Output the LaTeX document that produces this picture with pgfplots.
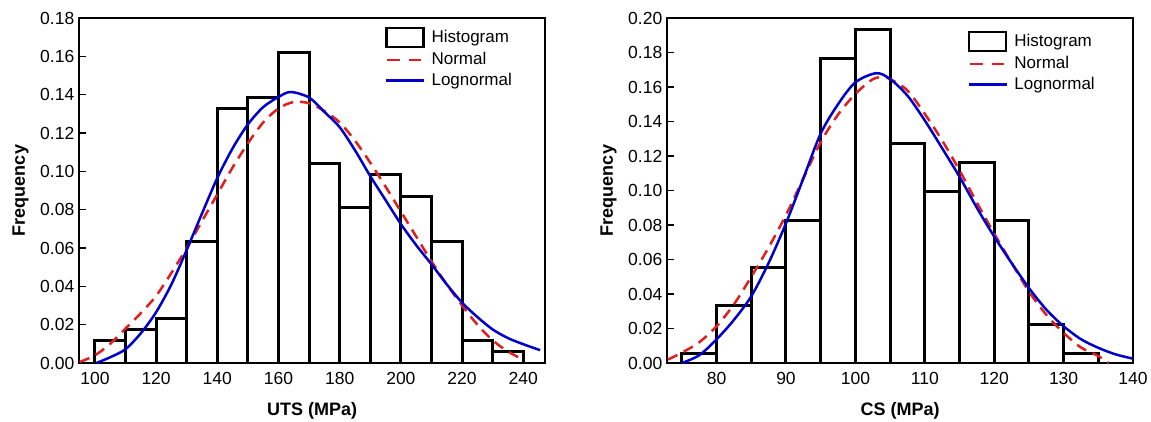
\documentclass[border=0pt]{standalone}
\usepackage{pgfplots}
\pgfplotsset{compat=1.18}
\usepackage{fontspec}
\setmainfont{Liberation Sans}
\definecolor{nred}{RGB}{225,30,30}
\definecolor{lblue}{RGB}{0,0,205}

\pgfplotsset{
  myaxis/.style={
    scale only axis, width=465.7pt, height=345pt,
    axis line style={line width=2pt},
    ytick pos=left, xtick pos=bottom,
    tick align=inside,
    major tick length=7pt,
    xtick style={draw=none},
    ytick style={line width=1.6pt, black},
    ymin=0,
    scaled y ticks=false,
    /pgf/number format/assume math mode=true,
    y tick label style={/pgf/number format/fixed, /pgf/number format/fixed zerofill, /pgf/number format/precision=2, font=\fontsize{17.5}{17.5}\selectfont, xshift=-1.5pt},
    x tick label style={font=\fontsize{17.5}{17.5}\selectfont, yshift=-6pt},
    x label style={at={(axis description cs:0.5,-0.138)}, anchor=center, font=\fontsize{18}{18}\selectfont\bfseries},
    y label style={at={(axis description cs:-0.126,0.5)}, anchor=center, font=\fontsize{18}{18}\selectfont\bfseries},
    ylabel={Frequency},
    legend cell align=left,
    legend style={draw=none, fill=none, inner sep=0pt, font=\fontsize{17}{17}\selectfont,
      row sep=3pt, nodes={inner sep=1pt, text height=12.5pt, text depth=3pt},
      /tikz/every odd column/.append style={column sep=4pt}},
  },
  histbar/.style={ybar interval, fill=white, draw=black, line width=3pt, forget plot},
  normcurve/.style={color=nred, line width=2.5pt, dash pattern=on 10.5pt off 7pt, smooth, no marks, forget plot},
  logcurve/.style={color=lblue, line width=2.5pt, smooth, no marks, forget plot},
}

\begin{document}
\begin{tikzpicture}
\useasboundingbox (-79.3pt,-58pt) rectangle (1071.7pt,363pt);

% ---------------- left: UTS ----------------
\begin{axis}[myaxis, at={(0pt,0pt)}, anchor=south west,
  xmin=94.9, xmax=247.1, ymax=0.18,
  xtick={100,120,...,240}, ytick={0,0.02,...,0.18},
  xlabel={UTS (MPa)},
  legend style={at={(0.656,0.975)}, anchor=north west}]
\addplot[histbar] coordinates {
 (100,0.01156) (110,0.01734) (120,0.02312) (130,0.06358) (140,0.13295)
 (150,0.13873) (160,0.16185) (170,0.10405) (180,0.08092) (190,0.09827)
 (200,0.08671) (210,0.06358) (220,0.01156) (230,0.00578) (240,0.00578)};
\addplot[normcurve] coordinates {
 (95,0.0005) (100,0.004) (105,0.010) (110,0.018) (115,0.026) (120,0.035)
 (125,0.047) (130,0.060) (135,0.074) (140,0.088) (145,0.102) (150,0.1146)
 (155,0.1255) (160,0.1328) (165,0.1362) (170,0.1355) (175,0.1315) (180,0.1255)
 (185,0.116) (190,0.1045) (195,0.092) (200,0.079) (205,0.066) (210,0.053)
 (215,0.041) (220,0.030) (225,0.020) (230,0.0118) (235,0.006) (240,0.0017)};
\addplot[logcurve] coordinates {
 (100.5,0) (105,0.003) (110,0.0072) (115,0.0155) (120,0.0265) (125,0.041)
 (130,0.059) (135,0.078) (140,0.0965) (145,0.112) (150,0.1245) (155,0.1335)
 (160,0.1388) (164,0.1414) (170,0.1385) (175,0.131) (180,0.123) (185,0.111)
 (190,0.0975) (195,0.085) (200,0.0725) (205,0.0615) (210,0.0515) (215,0.041)
 (220,0.0315) (225,0.024) (230,0.0175) (235,0.013) (240,0.0098) (245.5,0.0067)};
\addlegendimage{legend image code/.code={\draw[black, line width=2.6pt, fill=white] (0pt,-9.5pt) rectangle (37pt,9.5pt);}}
\addlegendentry{Histogram}
\addlegendimage{legend image code/.code={\draw[nred, line width=2.5pt, dash pattern=on 12.5pt off 9pt] (1pt,0pt) -- (39pt,0pt);}}
\addlegendentry{Normal}
\addlegendimage{legend image code/.code={\draw[lblue, line width=2.5pt] (0pt,0pt) -- (38pt,0pt);}}
\addlegendentry{Lognormal}
\end{axis}

% ---------------- right: CS ----------------
\begin{axis}[myaxis, at={(588pt,0pt)}, anchor=south west,
  xmin=72.9, xmax=140, ymax=0.20,
  xtick={80,90,...,140}, ytick={0,0.02,...,0.20},
  xlabel={CS (MPa)},
  legend style={at={(0.645,0.964)}, anchor=north west}]
\addplot[histbar] coordinates {
 (75,0.00552) (80,0.03315) (85,0.05525) (90,0.08287) (95,0.17680)
 (100,0.19337) (105,0.12707) (110,0.09945) (115,0.11602) (120,0.08287)
 (125,0.02210) (130,0.00552) (135,0.00552)};
\addplot[normcurve] coordinates {
 (73,0.002) (75,0.006) (77.5,0.012) (80,0.0213) (82.5,0.034) (85,0.050)
 (87.5,0.067) (90,0.0858) (92.5,0.107) (95,0.128) (97.5,0.144) (100,0.156)
 (102.5,0.1645) (104,0.1656) (105,0.1646) (107.5,0.158) (110,0.1444)
 (112.5,0.129) (115,0.1117) (117.5,0.093) (120,0.075) (122.5,0.058)
 (125,0.0415) (127.5,0.028) (130,0.0175) (132.5,0.009) (135,0.004) (136.5,0)};
\addplot[logcurve] coordinates {
 (75,0) (77.5,0.0045) (80,0.0137) (82.5,0.025) (85,0.0387) (87.5,0.058)
 (90,0.081) (92.5,0.107) (95,0.133) (97.5,0.150) (100,0.1627) (103,0.168)
 (105,0.1646) (107.5,0.155) (110,0.1406) (112.5,0.1245) (115,0.108)
 (117.5,0.090) (120,0.0733) (122.5,0.058) (125,0.0435) (127.5,0.031)
 (130,0.0213) (132.5,0.0138) (135,0.0088) (137.5,0.005) (140,0.0025)};
\addlegendimage{legend image code/.code={\draw[black, line width=2.6pt, fill=white] (0pt,-9.5pt) rectangle (37pt,9.5pt);}}
\addlegendentry{Histogram}
\addlegendimage{legend image code/.code={\draw[nred, line width=2.5pt, dash pattern=on 12.5pt off 9pt] (1pt,0pt) -- (39pt,0pt);}}
\addlegendentry{Normal}
\addlegendimage{legend image code/.code={\draw[lblue, line width=2.5pt] (0pt,0pt) -- (38pt,0pt);}}
\addlegendentry{Lognormal}
\end{axis}
\end{tikzpicture}
\end{document}
